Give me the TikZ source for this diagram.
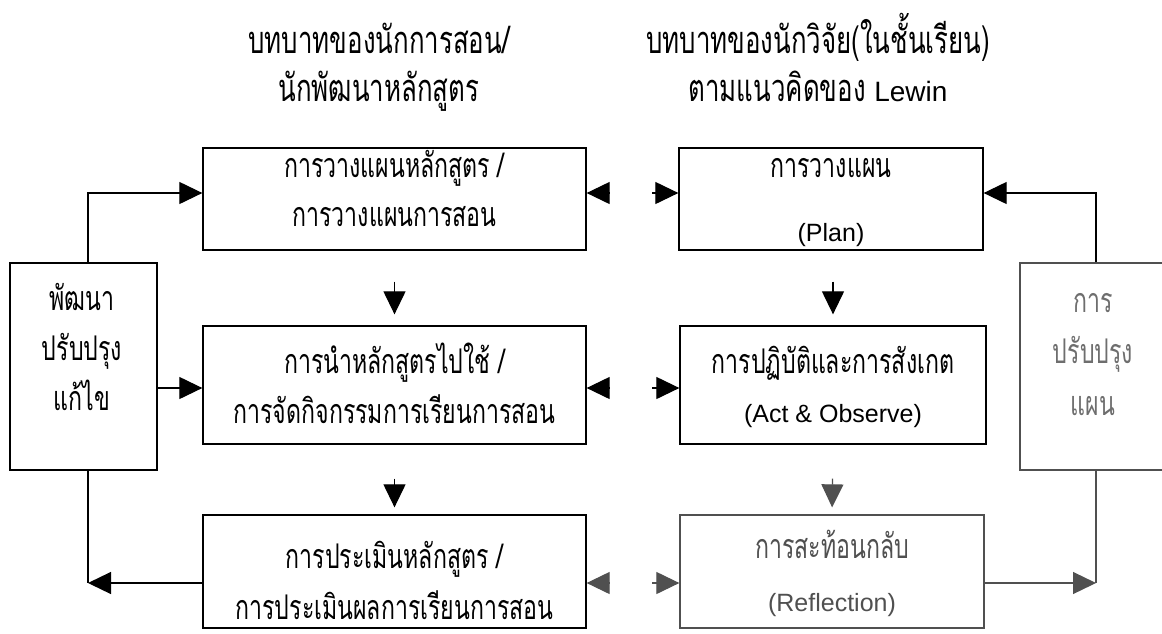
\documentclass[tikz,border=0pt]{standalone}
\usepackage{fontspec}
\setmainfont{Liberation Sans}
\newfontfamily\thai[Script=Thai,FakeStretch=0.68]{Loma}
\newfontfamily\thait[Script=Thai,FakeStretch=0.68]{Loma}
\usetikzlibrary{arrows.meta}
\definecolor{sg}{RGB}{80,80,80}
\definecolor{lg}{RGB}{110,110,110}
\tikzset{
  box/.style={draw, line width=1.3pt, inner sep=0pt, minimum width=#1},
  box/.default=383pt,
  conn/.style={line width=1.2pt, -{Triangle[length=23pt,width=22pt]}},
  plain/.style={line width=1.2pt},
  txt/.style={inner sep=0pt, anchor=base, font=\thai\fontsize{34}{36}\selectfont},
  ltxt/.style={inner sep=0pt, anchor=base, font=\fontsize{25}{27}\selectfont},
  ttl/.style={inner sep=0pt, anchor=base, font=\thait\fontsize{38}{40}\selectfont}
}
\begin{document}
\begin{tikzpicture}[x=1pt,y=-1pt]
\useasboundingbox (0,0) rectangle (1162,633);
\fill[white] (0,0) rectangle (1162,633);
\clip (0,0) rectangle (1162,633);

% titles
\node[ttl] (tl1) at (379,53) {บทบาทของนักการสอน/};
\node[ttl] (tl2) at (379,101) {นักพัฒนาหลักสูตร};
\node[ttl] (tr1) at (818,53) {บทบาทของนักวิจัย(ในชั้นเรียน)};
\node[ttl] (tr2) at (818,101) {ตามแนวคิดของ {\rmfamily\fontsize{28}{30}\selectfont Lewin}};

% boxes
\node[box, minimum height=102pt] (L1) at (394.5,199) {};
\node[box, minimum height=118pt] (L2) at (394.5,385) {};
\node[box, minimum height=113pt] (L3) at (394.5,571.5) {};
\node[box=304pt, minimum height=102pt] (R1) at (831,199) {};
\node[box=306pt, minimum height=118pt] (R2) at (833,385) {};
\node[box=304pt, minimum height=113pt, draw=sg] (R3) at (832,571.5) {};
\node[box=147pt, minimum height=207pt] (S1) at (83.5,366.5) {};
\node[box=150pt, minimum height=207pt, draw=sg] (S2) at (1095,366.5) {};

% box texts
\node[txt] (a1) at (394.5,177) {การวางแผนหลักสูตร /};
\node[txt] (a2) at (394.5,226) {การวางแผนการสอน};
\node[txt] (b1) at (394.5,373) {การนำหลักสูตรไปใช้ /};
\node[txt] (b2) at (394.5,423) {การจัดกิจกรรมการเรียนการสอน};
\node[txt] (c1) at (394.5,568) {การประเมินหลักสูตร /};
\node[txt] (c2) at (394.5,619) {การประเมินผลการเรียนการสอน};
\node[txt] (d1) at (831,177) {การวางแผน};
\node[ltxt] (d2) at (831,241) {(Plan)};
\node[txt] (e1) at (833,373) {การปฏิบัติและการสังเกต};
\node[ltxt] (e2) at (833,422) {(Act \& Observe)};
\node[txt, text=sg] (f1) at (832,558) {การสะท้อนกลับ};
\node[ltxt, text=sg] (f2) at (832,611) {(Reflection)};
\node[txt] (g1) at (82,310) {พัฒนา};
\node[txt] (g2) at (82,360) {ปรับปรุง};
\node[txt] (g3) at (82,410) {แก้ไข};
\node[txt, text=lg] (h1) at (1093,312) {การ};
\node[txt, text=lg] (h2) at (1093,363) {ปรับปรุง};
\node[txt, text=lg] (h3) at (1093,415) {แผน};

% helper coordinates
\coordinate (xl) at (88,0);
\coordinate (xr) at (1096,0);
\coordinate (r1) at (0,193);
\coordinate (r2) at (0,388);
\coordinate (r3) at (0,583);
\coordinate (pa1) at (609,193);
\coordinate (pb1) at (652,193);
\coordinate (pa2) at (609,388);
\coordinate (pb2) at (652,388);
\coordinate (pa3) at (609,583);
\coordinate (pb3) at (652,583);

% left loop
\draw[conn] (S1.north -| xl) |- (L1.west |- r1);
\draw[conn] (S1.east |- r2) -- (L2.west |- r2);
\draw[plain] (S1.south -| xl) -- (xl |- r3);
\draw[conn] (L3.west |- r3) -- (xl |- r3);

% right loop
\draw[conn] (S2.north -| xr) |- (R1.east |- r1);
\draw[plain, draw=sg] (S2.south -| xr) -- (xr |- r3);
\draw[conn, draw=sg, fill=sg] (R3.east |- r3) -- (xr |- r3);

% down arrows
\draw[conn, shorten <=31pt, shorten >=11pt] (L1.south) -- (L2.north);
\draw[conn, shorten <=34pt, shorten >=7pt] (L2.south) -- (L3.north);
\draw[conn, shorten <=31pt, shorten >=11pt] (R1.south -| R2.north) -- (R2.north);
\draw[conn, draw=sg, shorten <=34pt, shorten >=7pt] (R2.south) -- (R3.north);

% arrowheads between columns
\draw[conn] (pa1) -- (L1.east |- pa1);
\draw[conn] (pb1) -- (R1.west |- pb1);
\draw[conn] (pa2) -- (L2.east |- pa2);
\draw[conn] (pb2) -- (R2.west |- pb2);
\draw[conn, draw=sg] (pa3) -- (L3.east |- pa3);
\draw[conn, draw=sg] (pb3) -- (R3.west |- pb3);
\end{tikzpicture}
\end{document}
